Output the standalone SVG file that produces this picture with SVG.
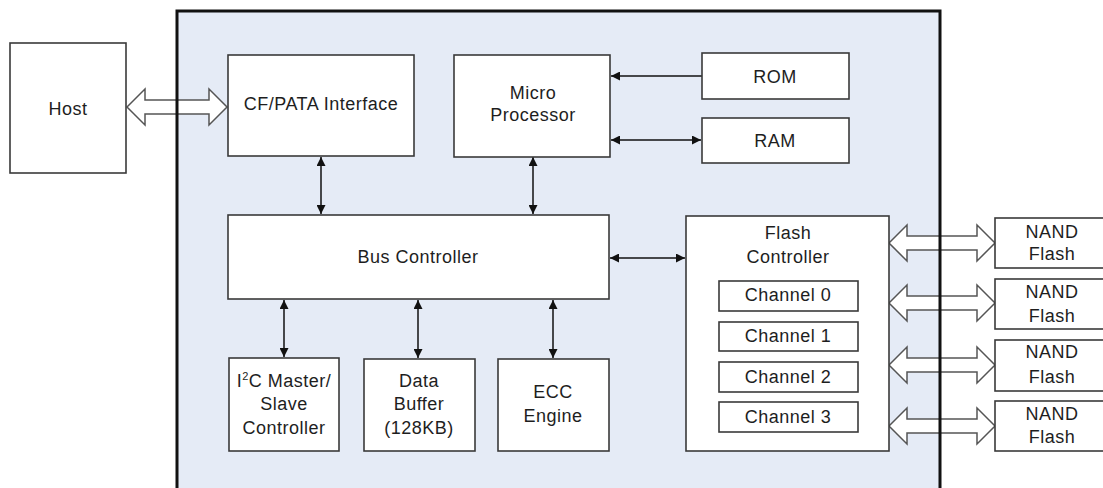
<svg xmlns="http://www.w3.org/2000/svg" width="1103" height="488" viewBox="0 0 1103 488">
<style>
.box{fill:#ffffff;stroke:#3a3a3a;stroke-width:1.6}
.t{font-family:"Liberation Sans",Arial,sans-serif;font-size:18px;fill:#1e1e1e;text-anchor:middle;letter-spacing:0.5px}
.ln{stroke:#111;stroke-width:1.5;fill:none;marker-end:url(#ah)}
.ln2{stroke:#111;stroke-width:1.5;fill:none;marker-end:url(#ah);marker-start:url(#ah)}
.fat{fill:#ffffff;stroke:#555;stroke-width:1.5;stroke-linejoin:miter}
</style>
<defs>
<marker id="ah" viewBox="0 0 10 10" refX="10" refY="5" markerWidth="9" markerHeight="9" markerUnits="userSpaceOnUse" orient="auto-start-reverse">
<path d="M0,0 L10,5 L0,10 Z" fill="#111"/>
</marker>
</defs>
<rect width="1103" height="488" fill="#ffffff"/>
<rect id="container-fill" x="177" y="11" width="763" height="500" fill="#e5ebf6"/>

<g id="connectors">
<path class="fat" d="M127,107 L145,89 L145,100 L209,100 L209,89 L227,107 L209,125 L209,114 L145,114 L145,125 Z"/>
<path class="fat" d="M889,243 L907,225 L907,236 L977,236 L977,225 L995,243 L977,261 L977,250 L907,250 L907,261 Z"/>
<path class="fat" d="M889,303 L907,285 L907,296 L977,296 L977,285 L995,303 L977,321 L977,310 L907,310 L907,321 Z"/>
<path class="fat" d="M889,365 L907,347 L907,358 L977,358 L977,347 L995,365 L977,383 L977,372 L907,372 L907,383 Z"/>
<path class="fat" d="M889,426 L907,408 L907,419 L977,419 L977,408 L995,426 L977,444 L977,433 L907,433 L907,444 Z"/>
<line class="ln2" x1="321" y1="157" x2="321" y2="214"/>
<line class="ln2" x1="533" y1="157" x2="533" y2="214"/>
<line class="ln" x1="702" y1="76" x2="611" y2="76"/>
<line class="ln2" x1="611" y1="140" x2="701" y2="140"/>
<line class="ln2" x1="610" y1="258" x2="685" y2="258"/>
<line class="ln2" x1="284" y1="300" x2="284" y2="357"/>
<line class="ln2" x1="418" y1="300" x2="418" y2="358"/>
<line class="ln2" x1="553" y1="300" x2="553" y2="358"/>
</g>

<rect id="container" x="177" y="11" width="763" height="500" fill="none" stroke="#111" stroke-width="3"/>

<g id="host"><rect class="box" x="10" y="43" width="116" height="130"/><text class="t" x="68" y="115">Host</text></g>
<g id="cf-pata"><rect class="box" x="228" y="55" width="186" height="101"/><text class="t" x="321" y="110">CF/PATA Interface</text></g>
<g id="micro-processor"><rect class="box" x="454" y="55" width="156" height="102"/><text class="t" x="533" y="99">Micro</text><text class="t" x="533" y="121">Processor</text></g>
<g id="rom"><rect class="box" x="702" y="53" width="147" height="46"/><text class="t" x="775" y="83">ROM</text></g>
<g id="ram"><rect class="box" x="702" y="118" width="147" height="45"/><text class="t" x="775" y="147">RAM</text></g>
<g id="bus-controller"><rect class="box" x="228" y="215" width="381" height="84"/><text class="t" x="418" y="263">Bus Controller</text></g>
<g id="i2c"><rect class="box" x="229" y="358" width="110" height="93"/><text class="t" x="284" y="387">I<tspan font-size="11" dy="-7">2</tspan><tspan dy="7">C Master/</tspan></text><text class="t" x="284" y="410">Slave</text><text class="t" x="284" y="434">Controller</text></g>
<g id="data-buffer"><rect class="box" x="364" y="359" width="111" height="92"/><text class="t" x="419" y="387">Data</text><text class="t" x="419" y="410">Buffer</text><text class="t" x="419" y="434">(128KB)</text></g>
<g id="ecc"><rect class="box" x="498" y="359" width="111" height="92"/><text class="t" x="553" y="398">ECC</text><text class="t" x="553" y="422">Engine</text></g>
<g id="flash-controller"><rect class="box" x="686" y="216" width="203" height="235"/><text class="t" x="788" y="239">Flash</text><text class="t" x="788" y="263">Controller</text></g>
<g id="channel0"><rect class="box" x="719" y="281" width="139" height="30"/><text class="t" x="788" y="301">Channel 0</text></g>
<g id="channel1"><rect class="box" x="719" y="322" width="139" height="29"/><text class="t" x="788" y="342">Channel 1</text></g>
<g id="channel2"><rect class="box" x="719" y="362" width="139" height="30"/><text class="t" x="788" y="383">Channel 2</text></g>
<g id="channel3"><rect class="box" x="719" y="402" width="139" height="30"/><text class="t" x="788" y="423">Channel 3</text></g>
<g id="nand1"><rect class="box" x="995" y="218" width="120" height="50"/><text class="t" x="1052" y="238">NAND</text><text class="t" x="1052" y="260">Flash</text></g>
<g id="nand2"><rect class="box" x="995" y="279" width="120" height="50"/><text class="t" x="1052" y="298">NAND</text><text class="t" x="1052" y="322">Flash</text></g>
<g id="nand3"><rect class="box" x="995" y="340" width="120" height="51"/><text class="t" x="1052" y="358">NAND</text><text class="t" x="1052" y="383">Flash</text></g>
<g id="nand4"><rect class="box" x="995" y="401" width="120" height="50"/><text class="t" x="1052" y="420">NAND</text><text class="t" x="1052" y="443">Flash</text></g>
</svg>
